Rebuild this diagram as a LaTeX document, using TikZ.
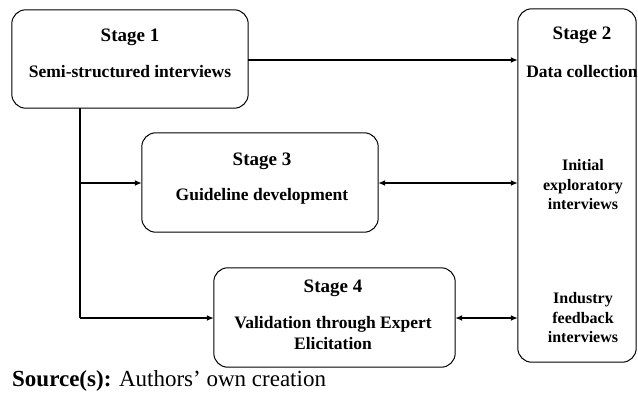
\documentclass[tikz,border=0pt]{standalone}
\usepackage{fontspec}
\setmainfont{Liberation Serif}
\usetikzlibrary{arrows.meta}
\begin{document}
\begin{tikzpicture}[x=1pt,y=-1pt,
  box/.style={draw, line width=1pt, rounded corners=14pt},
  ttl/.style={font=\bfseries\fontsize{19}{21}\selectfont, inner sep=0pt},
  sub/.style={font=\bfseries\fontsize{17.5}{20.5}\selectfont, inner sep=0pt, align=center},
  small/.style={font=\bfseries\fontsize{16}{19.5}\selectfont, inner sep=0pt, align=center},
  conn/.style={line width=1.4pt, -{Latex[length=7pt,width=6pt]}},
  dconn/.style={line width=1.4pt, {Latex[length=7pt,width=6pt]}-{Latex[length=7pt,width=6pt]}}]
\useasboundingbox (0,0) rectangle (638,397);
% boxes
\node[draw=none, minimum width=236pt, minimum height=98pt, inner sep=0pt] (s1) at (130,59) {};
\draw[box] (s1.north west) rectangle (s1.south east);
\node[draw=none, minimum width=118pt, minimum height=353pt, inner sep=0pt] (s2) at (577,185.5) {};
\draw[box] (s2.north west) rectangle (s2.south east);
\node[draw=none, minimum width=236pt, minimum height=99pt, inner sep=0pt] (s3) at (260,182.5) {};
\draw[box] (s3.north west) rectangle (s3.south east);
\node[draw=none, minimum width=241pt, minimum height=99pt, inner sep=0pt] (s4) at (334.5,317.5) {};
\draw[box] (s4.north west) rectangle (s4.south east);
% texts
\node[ttl] (t1) at (130,37) {Stage 1};
\node[sub] (d1) at (130,72) {Semi-structured interviews};
\node[ttl] (t2) at (582,35) {Stage 2};
\node[sub] (d2) at (582,72) {Data collection};
\node[small] (d2a) at (583,185) {Initial\\exploratory\\interviews};
\node[small] (d2b) at (583,318) {Industry\\feedback\\interviews};
\node[ttl] (t3) at (262,161) {Stage 3};
\node[sub] (d3) at (262,196) {Guideline development};
\node[ttl] (t4) at (333,288) {Stage 4};
\node[sub] (d4) at (333,333) {Validation through Expert\\Elicitation};
% connectors
\draw[conn] (s1.east |- 0,60) -- (s2.west |- 0,60);
\coordinate (j0) at (80,108);
\coordinate (j1) at (80,183);
\coordinate (j2) at (80,318);
\draw[line width=1.4pt] (j0) -- (j2);
\draw[conn] (j1) -- (s3.west |- j1);
\draw[conn] (j2) -- (s4.west |- j2);
\draw[dconn] (s3.east |- j1) -- (s2.west |- j1);
\draw[dconn] (s4.east |- j2) -- (s2.west |- j2);
% source
\node[anchor=west, inner sep=0pt, font=\fontsize{23}{25}\selectfont] (src) at (12,381) {\textbf{Source(s):} Authors’ own creation};
\end{tikzpicture}
\end{document}
